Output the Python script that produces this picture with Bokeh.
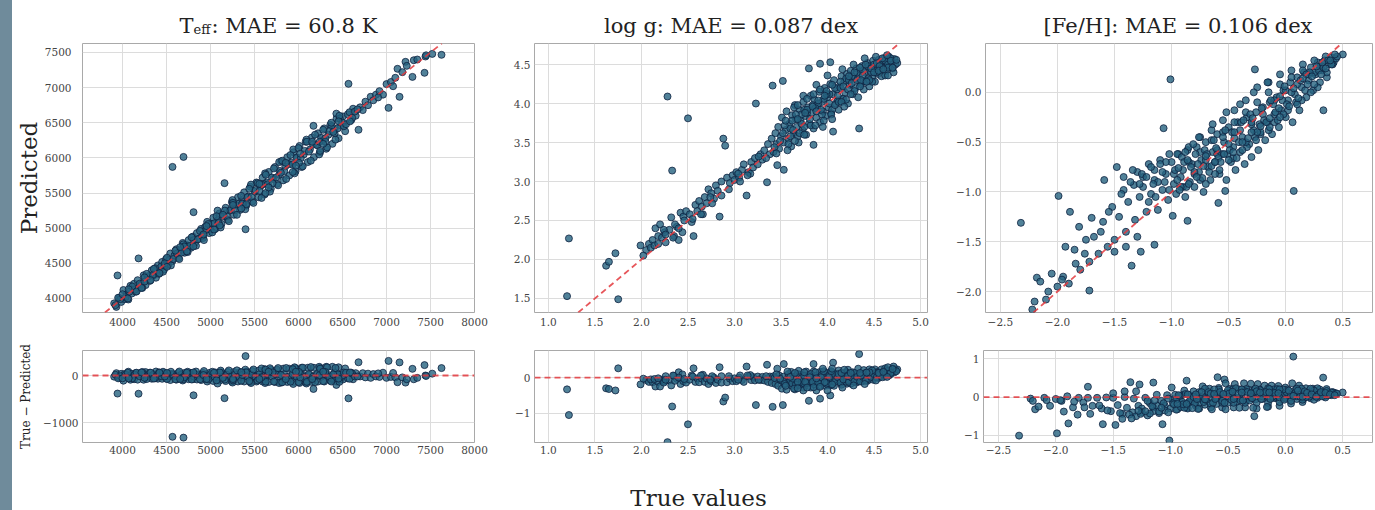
from bokeh.plotting import figure
from bokeh.layouts import row, column
from bokeh.models import Div, Label, Span, Slope, Range1d, FixedTicker, CustomJSTickFormatter
from bokeh.embed import file_html
from bokeh.resources import INLINE

# ---------------- data ----------------
teff_true = [
    3905, 3930, 3962, 3985, 4010, 4024, 4048, 4066, 4090, 4105,
    4131, 4150, 4172, 4188, 4215, 4240, 4262, 4285, 4310, 4332,
    4356, 4380, 4402, 4425, 4450, 4471, 4495, 4520, 4543, 4566,
    4590, 4612, 4635, 4660, 4684, 4705, 4728, 4751, 4776, 4800,
    4822, 4845, 4870, 4893, 4915, 4940, 4962, 4985, 5010, 5032,
    5055, 5080, 5102, 5125, 5150, 5172, 5196, 5220, 5243, 5266,
    5290, 5312, 5335, 5360, 5382, 5405, 5430, 5452, 5475, 5500,
    5522, 5546, 5570, 5592, 5615, 5640, 5662, 5685, 5710, 5732,
    5755, 5780, 5802, 5826, 5850, 5872, 5895, 5920, 5943, 5966,
    5990, 6012, 6035, 6060, 6082, 6105, 6130, 6152, 6175, 6200,
    6222, 6245, 6270, 6292, 6315, 6340, 6362, 6385, 6410, 6432,
    6455, 6480, 6505, 6530, 6560, 6600, 6620, 6650, 6700, 6730,
    6760, 6790, 6820, 6850, 6880, 6920, 6960, 7000, 7050, 7100,
    7125, 7180, 7216, 7230, 7310, 7350, 7443, 7450, 7520, 7625,
    3943, 4182, 4568, 4693, 4807, 5159, 5398, 6170, 6568, 6682,
    7023, 7148, 7295, 7432, 6430, 6470, 6500, 6380, 6410, 6445,
    3920, 3975, 4035, 4078, 4140, 4195, 4250, 4300, 4345, 4390,
    4440, 4485, 4530, 4575, 4620, 4668, 4715, 4760, 4810, 4855,
    4905, 4950, 4998, 5045, 5092, 5140, 5185, 5232, 5278, 5325,
    5372, 5418, 5465, 5512, 5558, 5605, 5652, 5698, 5745, 5790,
    5838, 5885, 5932, 5978, 6025, 6070, 6118, 6165, 6212, 6258,
    6305, 6350, 6395, 5460, 5620, 5780, 5940, 6090, 5250, 5080,
    3950, 4000, 4060, 4110, 4160, 4225, 4275, 4320, 4370, 4415,
    4460, 4505, 4550, 4600, 4645, 4690, 4740, 4785, 4835, 4880,
    4925, 4975, 5020, 5068, 5115, 5162, 5208, 5255, 5300, 5348,
    5395, 5440, 5488, 5535, 5580, 5628, 5675, 5720, 5768, 5815,
    5860, 5908, 5955, 6000, 6048, 6095, 6140, 6188, 6235, 6280,
    6325, 6372, 6420, 6465, 6515, 6540, 6580, 6610, 6640, 6670,
    4250, 4480, 4700, 4920, 5140, 5360, 5580, 5800, 6020, 6240,
    4070, 4215, 4355, 4505, 4655, 4805, 4955, 5105, 5255, 5405,
    5555, 5705, 5855, 6005, 6155, 6305, 6455, 5625, 5935, 6245,
    4420, 4730, 5040, 5350, 5660, 5970, 6280, 6585, 6905, 7075,
]
teff_pred = [
    3930, 3880, 4010, 3950, 4120, 3990, 4060, 3985, 4180, 4070,
    4210, 4095, 4260, 4150, 4200, 4330, 4190, 4310, 4250, 4400,
    4330, 4295, 4470, 4390, 4520, 4410, 4560, 4480, 4640, 4530,
    4610, 4700, 4575, 4690, 4790, 4650, 4760, 4830, 4720, 4880,
    4790, 4930, 4850, 4990, 4860, 5020, 5090, 4930, 5060, 5150,
    4990, 5110, 5210, 5060, 5180, 5290, 5120, 5250, 5370, 5190,
    5330, 5440, 5260, 5400, 5510, 5320, 5450, 5590, 5380, 5520,
    5650, 5440, 5600, 5720, 5480, 5650, 5800, 5560, 5700, 5870,
    5630, 5760, 5950, 5680, 5880, 6010, 5750, 5930, 6080, 5810,
    6000, 6170, 5870, 6050, 6230, 5940, 6120, 6290, 6010, 6190,
    6350, 6080, 6250, 6420, 6130, 6330, 6470, 6200, 6400, 6560,
    6280, 6460, 6590, 6380, 6620, 6540, 6700, 6600, 6720, 6680,
    6800, 6750, 6870, 6820, 6900, 6950, 6900, 7050, 7080, 7140,
    7268, 7220, 7367, 7310, 7390, 7400, 7443, 7460, 7480, 7467,
    4327, 4570, 5872, 6014, 5228, 5641, 4985, 6456, 7054, 6400,
    6712, 6869, 7153, 7211, 6630, 6560, 6500, 6450, 6350, 6420,
    3905, 3990, 4020, 4095, 4125, 4210, 4240, 4320, 4335, 4400,
    4455, 4470, 4545, 4560, 4640, 4650, 4730, 4745, 4830, 4840,
    4890, 4975, 4980, 5070, 5075, 5165, 5170, 5260, 5255, 5350,
    5350, 5440, 5445, 5540, 5530, 5630, 5625, 5720, 5720, 5815,
    5810, 5910, 5905, 6005, 5995, 6100, 6090, 6190, 6180, 6285,
    6280, 6380, 6370, 5620, 5780, 5940, 6120, 6260, 5400, 5250,
    4010, 4060, 4000, 4170, 4100, 4150, 4350, 4260, 4430, 4350,
    4380, 4580, 4470, 4680, 4560, 4770, 4660, 4870, 4750, 4960,
    4830, 5060, 4940, 5170, 5010, 5250, 5100, 5360, 5190, 5460,
    5270, 5560, 5360, 5640, 5430, 5760, 5520, 5850, 5610, 5960,
    5700, 6040, 5780, 6140, 5880, 6230, 5960, 6330, 6050, 6400,
    6150, 6500, 6260, 6600, 6450, 6480, 6650, 6570, 6660, 6690,
    4300, 4500, 4740, 4910, 5190, 5350, 5620, 5790, 6060, 6230,
    4130, 4150, 4420, 4450, 4730, 4740, 5030, 5040, 5330, 5340,
    5630, 5640, 5930, 5930, 6230, 6230, 6520, 5500, 5800, 6100,
    4360, 4670, 4980, 5280, 5580, 5890, 6200, 6520, 6860, 7020,
]

logg_true = [
    1.20, 1.22, 1.75, 1.62, 1.65, 1.72, 1.99, 2.05, 2.08, 2.12,
    2.15, 2.18, 2.20, 2.22, 2.25, 2.28, 2.26, 2.30, 2.32, 2.33,
    2.35, 2.38, 2.40, 2.42, 2.45, 2.48, 2.50, 2.52, 2.56, 2.58,
    2.60, 2.62, 2.65, 2.68, 2.70, 2.72, 2.75, 2.78, 2.80, 2.82,
    2.84, 2.86, 2.88, 2.90, 2.92, 2.95, 2.98, 3.00, 3.02, 3.05,
    3.08, 3.10, 3.13, 3.15, 3.18, 3.20, 3.22, 3.23, 3.25, 3.28,
    3.30, 3.32, 3.35, 3.36, 3.38, 3.41, 3.46, 3.52, 3.53, 3.80,
    3.92, 4.03, 4.06, 4.34, 3.85, 2.10, 2.24, 2.36, 2.44, 2.54,
    3.40, 3.42, 3.44, 3.45, 3.47, 3.48, 3.50, 3.51, 3.53, 3.55,
    3.56, 3.58, 3.59, 3.61, 3.62, 3.64, 3.65, 3.67, 3.68, 3.70,
    3.71, 3.73, 3.74, 3.76, 3.77, 3.79, 3.80, 3.82, 3.83, 3.85,
    3.86, 3.88, 3.89, 3.91, 3.92, 3.94, 3.95, 3.97, 3.98, 4.00,
    4.01, 4.03, 4.04, 4.06, 4.07, 4.09, 4.10, 4.12, 4.13, 4.15,
    4.16, 4.18, 4.19, 4.21, 4.22, 4.24, 4.25, 4.27, 4.28, 4.30,
    4.31, 4.33, 4.34, 4.36, 4.37, 4.39, 4.40, 4.42, 4.43, 4.45,
    4.46, 4.48, 4.49, 4.51, 4.52, 4.54, 4.55, 4.57, 4.58, 4.60,
    4.61, 4.63, 4.64, 4.66, 4.67, 4.69, 4.70, 4.72, 4.73, 4.75,
    3.52, 3.60, 3.66, 3.72, 3.78, 3.84, 3.90, 3.96, 4.02, 4.08,
    4.14, 4.20, 4.26, 4.32, 4.38, 4.44, 4.50, 4.56, 4.62, 4.68,
    3.58, 3.70, 3.82, 3.94, 4.05, 4.17, 4.29, 4.41, 4.53, 4.65,
    3.62, 3.75, 3.87, 3.99, 4.11, 4.23, 4.35, 4.47, 4.59, 4.71,
    3.43, 3.49, 3.54, 3.57, 3.63, 3.66, 3.69, 3.72, 3.75, 3.78,
    3.81, 3.84, 3.87, 3.90, 3.93, 3.96, 3.99, 4.02, 4.05, 4.08,
    4.11, 4.14, 4.17, 4.20, 4.23, 4.26, 4.29, 4.32, 4.35, 4.38,
    4.41, 4.44, 4.47, 4.50, 4.53, 4.56, 4.59, 4.62, 4.65, 4.68,
    3.60, 3.68, 3.76, 3.88, 3.97, 4.04, 4.12, 4.22, 4.36, 4.48,
    2.02, 2.14, 2.26, 2.40, 2.55, 2.66, 2.76, 2.94, 3.06, 3.17,
    4.40, 4.52, 4.64, 4.74, 4.28, 4.16, 4.00, 3.88, 3.74, 3.64,
    3.45, 3.55, 3.65, 3.75, 3.85, 3.95, 4.05, 4.15, 4.25, 4.35,
    4.45, 4.55, 4.65, 4.70, 3.68, 3.78, 3.92, 4.18, 4.42, 4.60,
    2.18, 2.34, 2.46, 2.64, 2.74, 2.86, 3.04, 3.14, 3.26, 3.34,
]
logg_pred = [
    1.53, 2.27, 1.49, 1.92, 1.97, 2.08, 2.18, 2.12, 2.20, 2.25,
    2.40, 2.30, 2.45, 2.28, 2.35, 4.09, 2.22, 2.38, 2.54, 3.14,
    2.30, 2.42, 2.25, 2.60, 2.55, 2.62, 3.81, 2.58, 2.30, 2.70,
    2.62, 2.75, 2.68, 2.80, 2.72, 2.90, 2.85, 2.78, 2.95, 2.88,
    2.55, 3.00, 3.55, 3.46, 3.05, 2.98, 3.08, 3.02, 3.12, 3.05,
    3.15, 3.22, 2.82, 3.12, 3.25, 3.18, 3.30, 4.00, 3.22, 3.35,
    3.28, 3.40, 2.99, 3.48, 3.35, 4.23, 3.21, 4.29, 3.15, 4.45,
    4.51, 4.53, 3.64, 3.68, 3.47, 2.15, 2.38, 2.45, 2.35, 2.48,
    3.55, 3.38, 3.62, 3.48, 3.70, 3.42, 3.58, 3.82, 3.50, 3.66,
    3.90, 3.55, 3.74, 3.45, 3.85, 3.62, 3.98, 3.70, 3.58, 3.92,
    3.78, 3.66, 4.02, 3.84, 3.60, 3.95, 3.74, 4.10, 3.88, 3.68,
    4.05, 3.82, 3.96, 4.15, 3.76, 4.02, 3.90, 4.20, 3.84, 4.08,
    3.95, 4.25, 3.88, 4.12, 4.30, 4.00, 4.18, 3.92, 4.22, 4.35,
    4.06, 4.28, 4.14, 4.38, 4.00, 4.24, 4.42, 4.12, 4.32, 4.20,
    4.45, 4.08, 4.36, 4.25, 4.48, 4.18, 4.40, 4.30, 4.52, 4.22,
    4.42, 4.34, 4.55, 4.28, 4.46, 4.38, 4.56, 4.44, 4.35, 4.50,
    4.58, 4.42, 4.52, 4.60, 4.48, 4.55, 4.45, 4.57, 4.50, 4.52,
    3.62, 3.68, 3.80, 3.86, 3.88, 3.98, 4.00, 4.06, 4.12, 4.20,
    4.20, 4.32, 4.35, 4.40, 4.42, 4.48, 4.50, 4.52, 4.55, 4.58,
    3.48, 3.62, 3.72, 3.86, 3.92, 4.06, 4.16, 4.28, 4.40, 4.50,
    3.78, 3.92, 3.94, 4.12, 4.04, 4.30, 4.28, 4.40, 4.46, 4.40,
    3.44, 3.52, 3.72, 3.40, 3.66, 3.86, 3.50, 3.74, 3.70, 3.92,
    3.80, 3.96, 3.72, 4.04, 3.92, 3.78, 4.16, 4.00, 4.24, 3.98,
    4.10, 4.28, 4.22, 4.05, 4.35, 4.26, 4.40, 4.30, 4.46, 4.36,
    4.50, 4.32, 4.45, 4.40, 4.52, 4.48, 4.58, 4.36, 4.46, 4.55,
    3.58, 3.80, 3.88, 3.90, 4.10, 3.86, 4.02, 4.18, 4.30, 4.28,
    2.05, 2.18, 2.32, 2.40, 2.52, 2.58, 2.72, 2.90, 3.00, 3.10,
    4.58, 4.60, 4.62, 4.56, 4.50, 4.44, 4.36, 4.24, 4.10, 3.95,
    3.36, 3.78, 3.52, 3.60, 4.12, 3.70, 3.80, 4.02, 4.12, 4.22,
    4.30, 4.42, 4.36, 4.46, 3.98, 4.06, 4.18, 3.96, 4.28, 4.44,
    2.20, 2.28, 2.50, 2.58, 2.80, 2.82, 3.10, 3.08, 3.32, 3.30,
]

feh_true = [
    -2.32, -1.99, -1.01, -0.27, 0.07, 0.33, 0.50, -0.59, -0.53, -0.86,
    -0.99, -1.35, -1.72, -2.18, -1.27, -1.15, -1.07, -1.48, -1.59, -1.89,
    -1.70, -1.93, -1.81, -1.42, -1.33, -2.22, -2.15, -2.10, -2.05, -2.00,
    -1.95, -1.90, -1.85, -1.80, -1.76, -1.72, -1.68, -1.64, -1.60, -1.56,
    -1.52, -1.50, -1.46, -1.44, -1.40, -1.38, -1.36, -1.32, -1.30, -1.28,
    -1.25, -1.22, -1.20, -1.18, -1.15, -1.12, -1.10, -1.08, -1.05, -1.03,
    -1.00, -0.98, -0.96, -0.94, -0.92, -0.90, -0.88, -0.86, -0.84, -0.82,
    -0.80, -0.78, -0.76, -0.74, -0.72, -0.70, -0.68, -0.66, -0.64, -0.62,
    -0.60, -0.58, -0.56, -0.54, -0.52, -0.50, -0.48, -0.46, -0.44, -0.42,
    -0.40, -0.38, -0.36, -0.34, -0.32, -0.30, -0.28, -0.26, -0.24, -0.22,
    -0.20, -0.18, -0.16, -0.14, -0.12, -0.10, -0.08, -0.06, -0.04, -0.02,
    0.00, 0.02, 0.04, 0.06, 0.08, 0.10, 0.12, 0.14, 0.16, 0.18,
    0.20, 0.22, 0.24, 0.26, 0.28, 0.30, 0.32, 0.34, 0.36, 0.38,
    0.40, 0.42, 0.44, 0.35, 0.25, 0.15, 0.05, -0.05, -0.15, -0.25,
    -0.35, -0.45, -0.55, -0.65, -0.75, -0.85, -0.95, -1.05, -1.15, -1.25,
    -0.90, -0.80, -0.70, -0.60, -0.50, -0.40, -0.30, -0.20, -0.10, 0.00,
    0.10, 0.20, 0.30, -0.85, -0.75, -0.65, -0.55, -0.45, -0.35, -0.25,
    -0.15, -0.05, 0.05, 0.15, 0.25, -0.70, -0.58, -0.46, -0.34, -0.22,
    -0.10, 0.02, 0.14, 0.28, -1.12, -1.18, -1.26, -1.34, -1.42, -1.55,
    -1.62, -1.75, -1.84, -1.96, -2.08, -2.20, -1.50, -1.40, -1.30, -1.20,
    -0.95, -0.91, -0.87, -0.83, -0.79, -0.75, -0.71, -0.67, -0.63, -0.59,
    -0.55, -0.51, -0.47, -0.43, -0.39, -0.35, -0.31, -0.27, -0.23, -0.19,
    -0.15, -0.11, -0.07, -0.03, 0.01, 0.05, 0.09, 0.13, 0.17, 0.21,
    0.25, 0.29, 0.33, 0.37, 0.41, -0.62, -0.50, -0.38, -0.26, -0.14,
    -0.02, 0.10, 0.22, -0.88, -0.76, -0.64, -0.52, -0.40, -0.28, -0.16,
    -1.10, -1.16, -1.22, -1.28, -1.14, -1.06, -0.98, -0.80, -0.45, -0.05,
    0.32, 0.18, -0.30, -0.60, -0.72, -0.92, -1.02, 0.40, 0.45, 0.36,
    -0.97, -0.93, -0.89, -0.85, -0.81, -0.77, -0.73, -0.69, -0.65, -0.61,
    -0.57, -0.53, -0.49, -0.45, -0.41, -0.37, -0.33, -0.29, -0.25, -0.21,
    -0.17, -0.13, -0.09, -0.05, -0.01, 0.03, 0.07, 0.11, 0.15, 0.19,
    0.23, 0.27, 0.31, 0.35, 0.39, 0.43, -1.08, -1.02, -0.94, -0.86,
    -0.78, -0.70, -0.62, -0.54, -0.46, -0.38, -0.30, -0.22, -0.14, -0.06,
]
feh_pred = [
    -1.31, -1.04, 0.13, 0.23, -0.99, -0.18, 0.38, -1.11, -0.99, -1.29,
    -1.24, -1.74, -1.99, -1.86, -1.60, -1.53, -0.36, -0.75, -0.88, -1.20,
    -1.26, -1.55, -1.35, -0.98, -0.93, -2.18, -1.90, -2.08, -1.82, -1.95,
    -1.85, -1.92, -1.58, -1.78, -1.62, -1.70, -1.45, -1.62, -1.30, -1.55,
    -1.15, -1.48, -1.25, -1.02, -1.40, -1.10, -0.90, -1.28, -0.80, -1.05,
    -0.95, -1.20, -0.72, -1.02, -0.88, -1.18, -0.68, -0.98, -0.82, -1.08,
    -0.70, -0.92, -1.02, -0.62, -0.85, -0.78, -1.05, -0.58, -0.90, -0.72,
    -0.95, -0.55, -0.80, -0.68, -1.00, -0.50, -0.75, -0.88, -0.60, -0.70,
    -0.42, -0.82, -0.62, -0.50, -0.88, -0.35, -0.70, -0.55, -0.78, -0.30,
    -0.60, -0.45, -0.72, -0.25, -0.52, -0.65, -0.38, -0.20, -0.58, -0.42,
    -0.15, -0.48, -0.30, -0.10, -0.42, -0.22, -0.05, -0.35, -0.18, 0.02,
    -0.25, -0.08, 0.10, -0.30, -0.02, 0.15, -0.18, 0.05, 0.20, -0.05,
    0.12, 0.25, 0.02, 0.18, 0.30, 0.10, 0.22, 0.32, 0.15, 0.28,
    0.35, 0.30, 0.34, 0.36, 0.32, 0.28, 0.22, 0.18, 0.10, 0.05,
    -0.08, -0.18, -0.28, -0.38, -0.45, -0.55, -0.62, -0.70, -0.78, -0.85,
    -0.95, -0.82, -0.68, -0.62, -0.52, -0.38, -0.32, -0.22, -0.08, 0.02,
    0.08, 0.18, 0.26, -0.70, -0.60, -0.48, -0.40, -0.30, -0.20, -0.10,
    0.00, 0.08, 0.15, 0.22, 0.20, -0.92, -0.78, -0.66, -0.55, -0.40,
    -0.30, -0.18, -0.08, 0.05, -0.90, -0.75, -0.82, -0.78, -0.85, -1.20,
    -1.40, -1.48, -1.72, -1.88, -2.00, -2.10, -1.60, -1.55, -1.45, -1.10,
    -0.88, -0.65, -0.95, -0.75, -0.62, -0.88, -0.58, -0.80, -0.48, -0.66,
    -0.45, -0.62, -0.40, -0.66, -0.30, -0.50, -0.22, -0.45, -0.32, -0.28,
    -0.38, -0.12, -0.28, -0.08, -0.12, 0.00, -0.10, 0.12, 0.02, 0.20,
    0.08, 0.22, 0.25, 0.32, 0.28, -0.82, -0.68, -0.58, -0.48, -0.35,
    -0.22, -0.12, 0.00, -0.60, -0.45, -0.32, -0.20, -0.12, 0.00, 0.10,
    -0.72, -0.92, -0.85, -0.92, -1.05, -0.90, -0.82, -0.80, -0.46, -0.04,
    0.30, 0.18, -0.30, -0.58, -0.74, -0.95, -0.98, 0.28, 0.36, 0.20,
    -0.78, -0.98, -0.70, -0.92, -0.52, -0.72, -0.86, -0.62, -0.74, -0.56,
    -0.70, -0.38, -0.58, -0.40, -0.50, -0.28, -0.46, -0.26, -0.40, -0.16,
    -0.30, -0.08, -0.20, -0.25, 0.06, -0.14, 0.04, -0.06, 0.14, 0.08,
    0.16, 0.26, 0.18, 0.24, 0.32, 0.38, -0.80, -0.62, -0.76, -0.68,
    -0.85, -0.64, -0.70, -0.62, -0.60, -0.50, -0.40, -0.34, -0.26, -0.16,
]

teff_title = ["T", "eff", ": MAE = 60.8 K"]
logg_title = "log g: MAE = 0.087 dex"
feh_title = "[Fe/H]: MAE = 0.106 dex"
teff_xticks = [4000, 4500, 5000, 5500, 6000, 6500, 7000, 7500, 8000]
teff_yticks = [4000, 4500, 5000, 5500, 6000, 6500, 7000, 7500]
teff_rticks = [-1000, 0]
logg_xticks = [1.0, 1.5, 2.0, 2.5, 3.0, 3.5, 4.0, 4.5, 5.0]
logg_yticks = [1.5, 2.0, 2.5, 3.0, 3.5, 4.0, 4.5]
logg_rticks = [-1, 0]
feh_xticks = [-2.5, -2.0, -1.5, -1.0, -0.5, 0.0, 0.5]
feh_yticks = [-2.0, -1.5, -1.0, -0.5, 0.0]
feh_rticks = [-1, 0, 1]

# ---------------- style ----------------
SERIF = "DejaVu Serif"
FILL = "#25637f"
EDGE = "#0f2240"
RED = "#e3383d"
GRID = "#dcdcdc"
TICKC = "#444444"
TXT = "#222222"


def fmt(decimals):
    return CustomJSTickFormatter(
        code="return tick.toFixed(%d).replace('-', '\\u2212');" % decimals)


def style(p, xticks, yticks, xdec, ydec, xstand, ystand):
    p.xaxis.ticker = FixedTicker(ticks=xticks)
    p.yaxis.ticker = FixedTicker(ticks=yticks)
    p.xaxis.formatter = fmt(xdec)
    p.yaxis.formatter = fmt(ydec)
    for ax in (p.xaxis[0], p.yaxis[0]):
        ax.axis_line_color = None
        ax.major_tick_line_color = None
        ax.minor_tick_line_color = None
        ax.major_tick_out = 0
        ax.major_tick_in = 0
        ax.major_label_text_font = SERIF
        ax.major_label_text_font_size = "10.5px"
        ax.major_label_text_color = TICKC
    p.xaxis.major_label_standoff = xstand
    p.yaxis.major_label_standoff = ystand
    p.grid.grid_line_color = GRID
    p.grid.grid_line_width = 1
    p.outline_line_color = "#a9a9a9"
    p.outline_line_width = 1
    p.background_fill_color = "white"
    p.border_fill_color = "white"


def main_panel(width, lb, rb, xr, yr, xt, yt, xdec, ydec, tx, ty, ystand):
    p = figure(width=width, height=297, x_range=Range1d(*xr), y_range=Range1d(*yr),
               output_backend="svg", toolbar_location=None,
               min_border_left=lb, min_border_right=rb, min_border_top=5, min_border_bottom=23)
    style(p, xt, yt, xdec, ydec, 5, ystand)
    p.scatter(tx, ty, size=7, fill_color=FILL, fill_alpha=0.8, line_color=EDGE, line_width=0.8)
    p.add_layout(Slope(gradient=1, y_intercept=0, line_color=RED, line_alpha=0.85,
                       line_width=1.8, line_dash="6 4"))
    return p


def resid_panel(width, lb, rb, xr, yr, xt, rt, xdec, tx, ty):
    p = figure(width=width, height=135, x_range=Range1d(*xr), y_range=Range1d(*yr),
               output_backend="svg", toolbar_location=None,
               min_border_left=lb, min_border_right=rb, min_border_top=15, min_border_bottom=28)
    style(p, xt, rt, xdec, 0, 3, 4)
    res = [a - b for a, b in zip(tx, ty)]
    p.scatter(tx, res, size=7, fill_color=FILL, fill_alpha=0.8, line_color=EDGE, line_width=0.8)
    p.add_layout(Span(location=0, dimension="width", line_color=RED, line_alpha=0.85,
                      line_width=1.8, line_dash="6 4"))
    return p


def text_strip(height):
    p = figure(width=1363, height=height, x_range=Range1d(0, 1363), y_range=Range1d(0, height),
               output_backend="svg", toolbar_location=None,
               x_axis_location=None, y_axis_location=None,
               min_border_left=0, min_border_right=0, min_border_top=0, min_border_bottom=0)
    p.grid.visible = False
    p.outline_line_color = None
    p.background_fill_color = "white"
    p.border_fill_color = "white"
    return p


def put(p, text, x, y, size, align="center"):
    p.add_layout(Label(x=x, y=y, text=text, text_font=SERIF, text_font_size=size,
                       text_color=TXT, text_align=align, text_baseline="alphabetic"))


# titles row (x measured from the left edge of the column area)
top = text_strip(38)
put(top, teff_title[0], 167, 13, "21px", "left")
put(top, teff_title[1], 181, 9, "13px", "left")
put(top, teff_title[2], 199, 13, "21px", "left")
put(top, logg_title, 718.5, 13, "21px")
put(top, feh_title, 1165.5, 13, "21px")

# bottom row
bottom = text_strip(40)
put(bottom, "True values", 686, 13, "23px")

# column 1 : Teff
m1 = main_panel(492, 70, 30, (3545, 8000), (3800, 7628), teff_xticks, teff_yticks, 0, 0,
                teff_true, teff_pred, 11)
m1.yaxis.axis_label = "Predicted"
m1.yaxis.axis_label_text_font = SERIF
m1.yaxis.axis_label_text_font_size = "23px"
m1.yaxis.axis_label_text_font_style = "normal"
m1.yaxis.axis_label_text_color = TXT
m1.yaxis.axis_label_standoff = 0

r1 = resid_panel(492, 70, 30, (3545, 8000), (-1425, 532), teff_xticks, teff_rticks, 0,
                 teff_true, teff_pred)
r1.yaxis.axis_label = "True \u2212 Predicted"
r1.yaxis.axis_label_text_font = SERIF
r1.yaxis.axis_label_text_font_size = "12px"
r1.yaxis.axis_label_text_font_style = "normal"
r1.yaxis.axis_label_text_color = TXT
r1.yaxis.axis_label_standoff = 7

# column 2 : log g
m2 = main_panel(449, 30, 26, (0.85, 5.075), (1.32, 4.77), logg_xticks, logg_yticks, 1, 1,
                logg_true, logg_pred, 4)
r2 = resid_panel(449, 30, 26, (0.85, 5.075), (-1.82, 0.76), logg_xticks, logg_rticks, 1,
                 logg_true, logg_pred)

# column 3 : [Fe/H]
m3 = main_panel(422, 30, 3, (-2.63, 0.76), (-2.21, 0.49), feh_xticks, feh_yticks, 1, 1,
                feh_true, feh_pred, 4)
r3 = resid_panel(422, 30, 3, (-2.63, 0.76), (-1.19, 1.22), feh_xticks, feh_rticks, 1,
                 feh_true, feh_pred)

strip = Div(text="", width=12, height=510, margin=0,
            styles={"background-color": "#6f8b9b"})

body = column(top,
              row(m1, m2, m3),
              row(r1, r2, r3),
              bottom)
layout = row(strip, body)

open("out.html", "w").write(file_html(layout, INLINE))
